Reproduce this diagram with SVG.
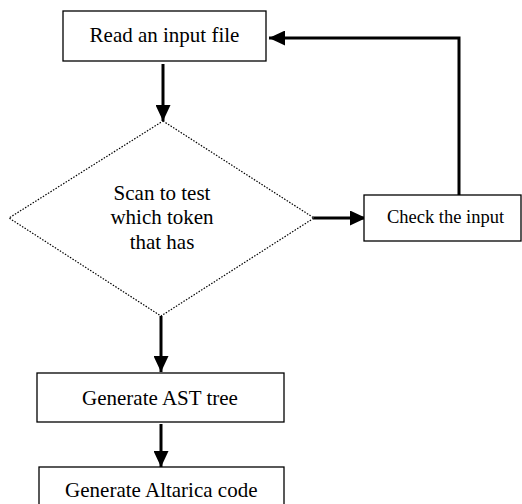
<svg xmlns="http://www.w3.org/2000/svg" width="522" height="504" viewBox="0 0 522 504">
<style>
.box{fill:#fff;stroke:#000;stroke-width:1.3}
.dia{fill:#fff;stroke:#000;stroke-width:1.2;stroke-dasharray:1.5 1.5}
.lbl{font-family:"Liberation Serif","Times New Roman",serif;font-size:21px;fill:#000;text-anchor:middle}
.sm{font-size:18.5px}
.con{fill:none;stroke:#000;stroke-width:3;marker-end:url(#ah)}
</style>
<defs>
<marker id="ah" markerUnits="userSpaceOnUse" markerWidth="16" markerHeight="15" refX="16" refY="7.5" orient="auto">
<path d="M0,0 L16,7.5 L0,15 z" fill="#000"/>
</marker>
</defs>
<rect width="522" height="504" fill="#fff"/>
<g id="connectors">
<path class="con" d="M163,64 L163,121"/>
<path class="con" d="M313,218 L366,218"/>
<path class="con" d="M459,195 L459,38 L269,38"/>
<path class="con" d="M161,316 L161,372"/>
<path class="con" d="M161,424 L161,467"/>
</g>
<g id="read">
<rect class="box" x="63" y="11" width="203" height="50"/>
<text class="lbl" x="164.5" y="41.5">Read an input file</text>
</g>
<g id="scan">
<polygon class="dia" points="163,121 314,218 161,316 9,218"/>
<text class="lbl" x="162" y="199.5">Scan to test</text>
<text class="lbl" x="162" y="224">which token</text>
<text class="lbl" x="162" y="248.5">that has</text>
</g>
<g id="check">
<rect class="box" x="364" y="195" width="157" height="46"/>
<text class="lbl sm" x="445.5" y="223.3">Check the input</text>
</g>
<g id="ast">
<rect class="box" x="37" y="373" width="247" height="49"/>
<text class="lbl" x="160" y="405">Generate AST tree</text>
</g>
<g id="altarica">
<rect class="box" x="39" y="467" width="245" height="50"/>
<text class="lbl" x="161.3" y="496.7">Generate Altarica code</text>
</g>
</svg>
